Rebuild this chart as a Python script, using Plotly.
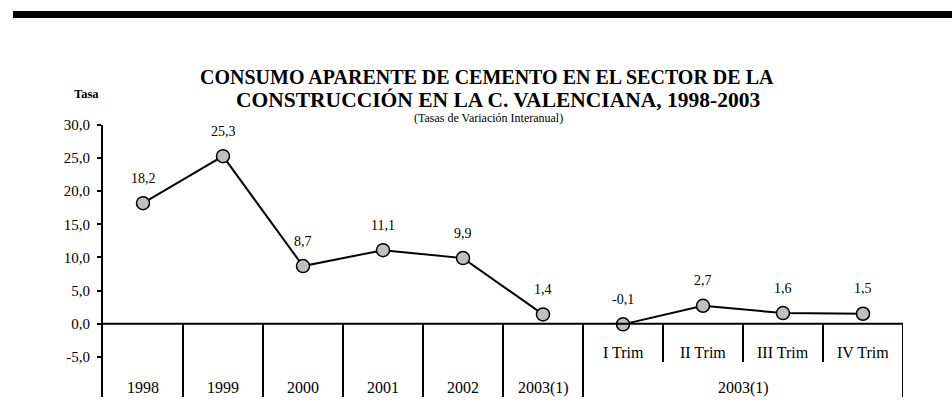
import plotly.graph_objects as go

# ---- data ----
annual_cats = ["1998", "1999", "2000", "2001", "2002", "2003(1)"]
annual_vals = [18.2, 25.3, 8.7, 11.1, 9.9, 1.4]
quarter_cats = ["I Trim", "II Trim", "III Trim", "IV Trim"]
quarter_vals = [-0.1, 2.7, 1.6, 1.5]
group_label = "2003(1)"
y_ticks = [-5, 0, 5, 10, 15, 20, 25, 30]

title_1 = "CONSUMO APARENTE DE CEMENTO EN EL SECTOR DE LA"
title_2 = "CONSTRUCCIÓN EN LA C. VALENCIANA, 1998-2003"
subtitle = "(Tasas de Variación Interanual)"
y_title = "Tasa"

# ---- geometry ----
W, H = 952, 414
ML, MR, MT, MB = 103, 49, 125, 17
PH = H - MT - MB
PW = W - ML - MR
Y_MIN, Y_MAX = -11.07, 30.0
FONT = "Liberation Serif, Times New Roman, serif"

all_cats = annual_cats + quarter_cats
n = len(all_cats)
idx = list(range(n))


def fmt(v):
    return f"{v:.1f}".replace(".", ",")


def ypix(py):
    return 1 - (py - MT) / PH


def xpix(px):
    return (px - ML) / PW


fig = go.Figure()

marker = dict(size=13, color="#c0c0c0", line=dict(color="black", width=1.5))
na = len(annual_cats)
fig.add_trace(go.Scatter(x=idx[:na], y=annual_vals, mode="lines+markers",
                         line=dict(color="black", width=2), marker=marker,
                         hoverinfo="skip", showlegend=False))
fig.add_trace(go.Scatter(x=idx[na:], y=quarter_vals, mode="lines+markers",
                         line=dict(color="black", width=2), marker=marker,
                         hoverinfo="skip", showlegend=False))

annotations = []
txt = dict(showarrow=False, xanchor="center", yanchor="middle")
# data labels
for i, v in zip(idx, annual_vals + quarter_vals):
    annotations.append(dict(x=i, y=v, xref="x", yref="y", text=fmt(v),
                            yshift=25, font=dict(family=FONT, size=14, color="black"), **txt))
# year labels (lower row)
for i, c in zip(idx[:na], annual_cats):
    annotations.append(dict(x=i, y=-9.7, xref="x", yref="y", text=c,
                            font=dict(family=FONT, size=16, color="black"), **txt))
# quarter labels
for i, c in zip(idx[na:], quarter_cats):
    annotations.append(dict(x=i, y=-4.3, xref="x", yref="y", text=c,
                            font=dict(family=FONT, size=16, color="black"), **txt))
# group label
q0, q1 = na, n - 1
annotations.append(dict(x=(q0 + q1) / 2, y=-9.7, xref="x", yref="y",
                        text=group_label,
                        font=dict(family=FONT, size=16, color="black"), **txt))
# titles
annotations.append(dict(x=xpix(487), y=ypix(77), xref="paper", yref="paper",
                        text="<b>" + title_1 + "</b>",
                        font=dict(family=FONT, size=20, color="black"), **txt))
annotations.append(dict(x=xpix(498), y=ypix(100), xref="paper", yref="paper",
                        text="<b>" + title_2 + "</b>",
                        font=dict(family=FONT, size=21.5, color="black"), **txt))
annotations.append(dict(x=xpix(488), y=ypix(118), xref="paper", yref="paper",
                        text=subtitle,
                        font=dict(family=FONT, size=12, color="black"), **txt))
annotations.append(dict(x=xpix(86), y=ypix(94), xref="paper", yref="paper",
                        text="<b>" + y_title + "</b>",
                        font=dict(family=FONT, size=12.5, color="black"), **txt))

shapes = []
# top black bar
shapes.append(dict(type="rect", xref="paper", yref="paper",
                   x0=xpix(13), x1=xpix(952), y0=ypix(18), y1=ypix(11),
                   fillcolor="black", line=dict(width=0)))
# zero line across categories
shapes.append(dict(type="line", xref="x", yref="y", x0=-0.5, x1=n - 0.5,
                   y0=0, y1=0, line=dict(color="black", width=2)))
# dividers
for i in range(n):
    b = i + 0.5
    y_end = -5.8 if q0 <= i < q1 else Y_MIN
    shapes.append(dict(type="line", xref="x", yref="y", x0=b, x1=b,
                       y0=0, y1=y_end, line=dict(color="black", width=2)))

fig.update_layout(
    width=W, height=H,
    margin=dict(l=ML, r=MR, t=MT, b=MB),
    paper_bgcolor="white", plot_bgcolor="white",
    annotations=annotations, shapes=shapes,
    xaxis=dict(range=[-0.5, n - 0.5], showticklabels=False, showline=False,
               showgrid=False, zeroline=False, ticks=""),
    yaxis=dict(range=[Y_MIN, Y_MAX], tickvals=y_ticks,
               ticktext=[fmt(v) for v in y_ticks],
               showline=True, linecolor="black", linewidth=2,
               ticks="outside", ticklen=4, tickwidth=1.5, tickcolor="black",
               ticklabelstandoff=4,
               showgrid=False, zeroline=False,
               tickfont=dict(family=FONT, size=15, color="black")),
)

fig.write_html("out.html", config={"displayModeBar": False},
               post_script="document.body.style.margin='0';")
